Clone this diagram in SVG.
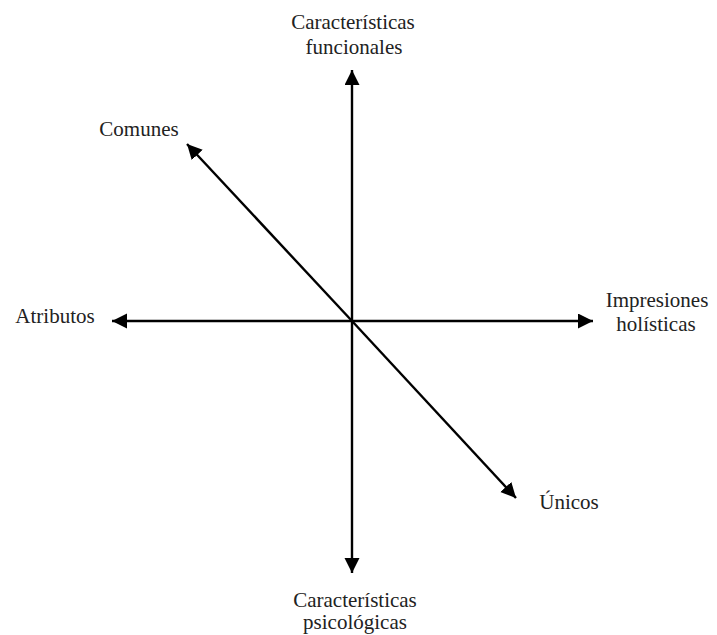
<svg xmlns="http://www.w3.org/2000/svg" width="717" height="635" viewBox="0 0 717 635">
<style>
.lbl{font-family:"Liberation Serif","Times New Roman",serif;font-size:21px;fill:#222;text-anchor:middle}
.ax{stroke:#000;stroke-width:2.4;fill:none;marker-end:url(#ah)}
</style>
<defs>
<marker id="ah" markerUnits="userSpaceOnUse" markerWidth="18" markerHeight="18" refX="15" refY="7.5" orient="auto">
<path d="M0,0 L15,7.5 L0,15 Z" fill="#000"/>
</marker>
</defs>
<rect width="717" height="635" fill="#fff"/>
<g id="connectors">
<line class="ax" x1="352" y1="321" x2="352" y2="70"/>
<line class="ax" x1="352" y1="321" x2="352" y2="573"/>
<line class="ax" x1="352" y1="321" x2="112" y2="321"/>
<line class="ax" x1="352" y1="321" x2="593" y2="321"/>
<line class="ax" x1="352" y1="321" x2="187" y2="144"/>
<line class="ax" x1="352" y1="321" x2="516" y2="498"/>
</g>
<g id="funcionales"><text class="lbl" x="353" y="29">Características</text><text class="lbl" x="354" y="54">funcionales</text></g>
<g id="comunes"><text class="lbl" x="139" y="136">Comunes</text></g>
<g id="atributos"><text class="lbl" x="55" y="323">Atributos</text></g>
<g id="holisticas"><text class="lbl" x="657" y="307">Impresiones</text><text class="lbl" x="656" y="331">holísticas</text></g>
<g id="unicos"><text class="lbl" x="569" y="509">Únicos</text></g>
<g id="psicologicas"><text class="lbl" x="355" y="607">Características</text><text class="lbl" x="355" y="629">psicológicas</text></g>
</svg>
